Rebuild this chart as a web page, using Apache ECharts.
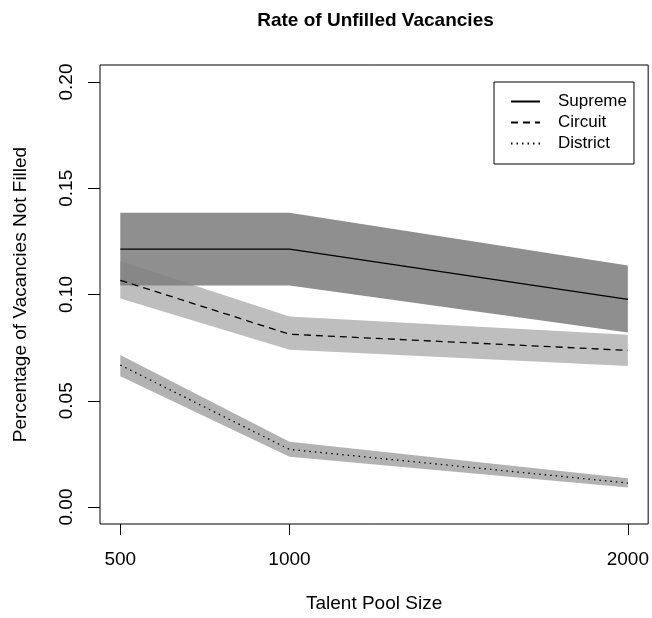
<!DOCTYPE html>
<html>
<head>
<meta charset="utf-8">
<script src="https://cdn.jsdelivr.net/npm/echarts@6/dist/echarts.min.js"></script>
<style>
html,body{margin:0;padding:0;background:#fff;}
#chart{width:652px;height:618px;}
</style>
</head>
<body>
<div id="chart"></div>
<script>
// ---- data ----
const pool = [500, 1000, 2000];
const xTicks = [500, 1000, 2000];
const yTicks = [0, 0.05, 0.10, 0.15, 0.20];

const supremeMean = [0.1214, 0.1214, 0.0977];
const supremeLow  = [0.1042, 0.1042, 0.0821];
const supremeHigh = [0.1385, 0.1385, 0.1137];

const circuitMean = [0.1067, 0.0813, 0.0737];
const circuitLow  = [0.0981, 0.0740, 0.0663];
const circuitHigh = [0.1156, 0.0896, 0.0811];

const districtMean = [0.0668, 0.0271, 0.0113];
const districtLow  = [0.0615, 0.0237, 0.0092];
const districtHigh = [0.0715, 0.0307, 0.0135];

const FONT = '"Liberation Sans", Arial, Helvetica, sans-serif';

function bandSeries(name, low, high, color, z) {
  return {
    type: 'custom', name: name, z: z, silent: true, clip: true,
    data: pool.map((x, i) => [x, low[i], high[i]]),
    encode: { x: 0, y: [1, 2] },
    renderItem: function (params, api) {
      if (params.dataIndex !== 0) return null;
      const pts = [];
      for (let i = 0; i < pool.length; i++) pts.push(api.coord([pool[i], high[i]]));
      for (let i = pool.length - 1; i >= 0; i--) pts.push(api.coord([pool[i], low[i]]));
      return { type: 'polygon', shape: { points: pts }, style: { fill: color } };
    }
  };
}

function lineSeries(name, vals, type, z) {
  return {
    type: 'line', name: name, z: z, symbol: 'none', silent: true,
    data: pool.map((x, i) => [x, vals[i]]),
    lineStyle: { color: '#000', width: 1.3, type: type },
    itemStyle: { color: '#000' }
  };
}

const chart = echarts.init(document.getElementById('chart'), null, { renderer: 'canvas' });
chart.setOption({
  animation: false,
  backgroundColor: '#fff',
  title: {
    text: 'Rate of Unfilled Vacancies',
    left: 375.5, top: 11, padding: 0, textAlign: 'center',
    textStyle: { fontFamily: FONT, fontWeight: 'bold', fontSize: 19, color: '#000' }
  },
  grid: {
    left: 100, top: 65, width: 551, height: 463,
    show: true, borderColor: '#000', borderWidth: 1, backgroundColor: 'transparent'
  },
  legend: {
    orient: 'vertical', left: 494, top: 82,
    backgroundColor: '#fff', borderColor: '#000', borderWidth: 1,
    padding: [9, 7, 10, 16], itemGap: 0,
    itemWidth: 29, itemHeight: 14,
    data: ['Supreme', 'Circuit', 'District'],
    itemStyle: { opacity: 0 },
    textStyle: { fontFamily: FONT, fontSize: 17, color: '#000', lineHeight: 21, padding: [0, 0, 0, 13] },
    selectedMode: false
  },
  xAxis: {
    type: 'value', min: 440, max: 2060,
    name: 'Talent Pool Size', nameLocation: 'middle', nameGap: 70,
    nameTextStyle: { fontFamily: FONT, fontSize: 19, color: '#000' },
    axisLine: { show: false, onZero: false },
    splitLine: { show: false },
    axisTick: { show: true, customValues: xTicks, length: 11, lineStyle: { color: '#000', width: 1 } },
    axisLabel: { customValues: xTicks, margin: 26, fontFamily: FONT, fontSize: 19, color: '#000',
      formatter: v => String(v) }
  },
  yAxis: {
    type: 'value', min: -0.008, max: 0.208,
    name: 'Percentage of Vacancies Not Filled', nameLocation: 'middle', nameGap: 70, nameRotate: 90,
    nameTextStyle: { fontFamily: FONT, fontSize: 19, color: '#000' },
    axisLine: { show: false, onZero: false },
    splitLine: { show: false },
    axisTick: { show: true, customValues: yTicks, length: 12, lineStyle: { color: '#000', width: 1 } },
    axisLabel: {
      customValues: yTicks, rotate: 90, margin: 24, fontFamily: FONT, fontSize: 19, color: '#000',
      formatter: v => v.toFixed(2)
    }
  },
  series: [
    bandSeries('Supreme band', supremeLow, supremeHigh, '#8f8f8f', 1),
    bandSeries('Circuit band', circuitLow, circuitHigh, 'rgba(127,127,127,0.51)', 2),
    bandSeries('District band', districtLow, districtHigh, '#b2b2b2', 3),
    lineSeries('Supreme', supremeMean, 'solid', 5),
    lineSeries('Circuit', circuitMean, [7, 5], 5),
    lineSeries('District', districtMean, [1.5, 4], 5)
  ]
});
</script>
</body>
</html>
